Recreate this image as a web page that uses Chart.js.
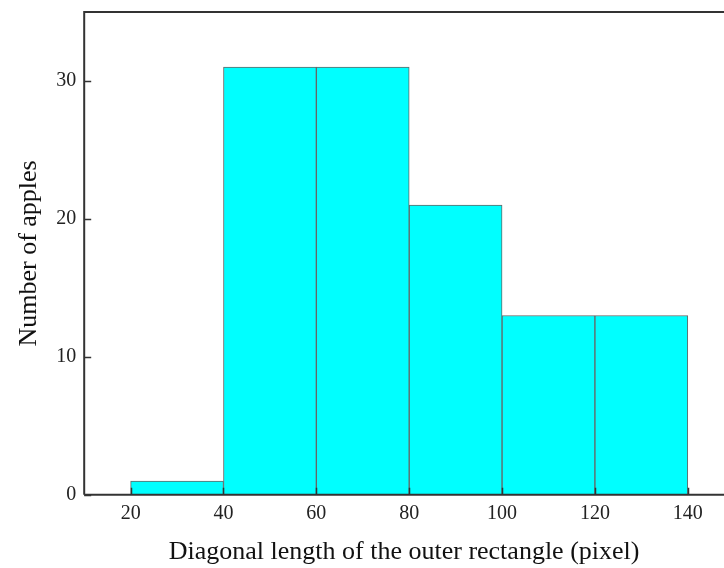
<!DOCTYPE html>
<html><head><meta charset="utf-8">
<script src="https://cdn.jsdelivr.net/npm/chart.js@4/dist/chart.umd.min.js"></script>
<style>html,body{margin:0;padding:0;background:#fff;overflow:hidden}#wrap{width:724px;height:568px}</style>
</head><body><div id="wrap"><canvas id="c" width="724" height="568"></canvas></div>
<script>
const binCenters = [30, 50, 70, 90, 110, 130];
const counts = [1, 31, 31, 21, 13, 13];
const xTicks = [20, 40, 60, 80, 100, 120, 140];
const yTicks = [0, 10, 20, 30];

const frame = {
  id: 'frame',
  afterDraw(chart) {
    const {ctx, chartArea: a, scales: {x, y}} = chart;
    ctx.save();
    ctx.strokeStyle = '#333';
    ctx.lineWidth = 2;
    ctx.beginPath();
    ctx.moveTo(a.left, a.bottom); ctx.lineTo(a.left, a.top); ctx.lineTo(a.right, a.top);
    ctx.moveTo(a.left, a.bottom); ctx.lineTo(a.right, a.bottom);
    ctx.stroke();
    ctx.lineWidth = 1.5;
    ctx.beginPath();
    xTicks.forEach(v => { const p = Math.round(x.getPixelForValue(v)) + 0.5; ctx.moveTo(p, a.bottom); ctx.lineTo(p, a.bottom - 7); });
    yTicks.forEach(v => { const p = Math.round(y.getPixelForValue(v)) + 0.5; ctx.moveTo(a.left, p); ctx.lineTo(a.left + 7, p); });
    ctx.stroke();
    ctx.restore();
  }
};

new Chart(document.getElementById('c'), {
  type: 'bar',
  data: {
    datasets: [{
      data: binCenters.map((c, i) => ({x: c, y: counts[i]})),
      backgroundColor: '#00FFFF',
      borderColor: '#666',
      borderWidth: 1,
      barPercentage: 1,
      categoryPercentage: 1
    }]
  },
  options: {
    responsive: false,
    animation: false,
    layout: {padding: {top: 12, right: 0, left: 14, bottom: 0}},
    plugins: {legend: {display: false}, tooltip: {enabled: false}},
    scales: {
      x: {
        type: 'linear', min: 10, max: 147.8, offset: false,
        afterBuildTicks: s => { s.ticks = xTicks.map(v => ({value: v})); },
        grid: {display: false, drawTicks: false, offset: false},
        border: {display: false},
        ticks: {padding: 7, color: '#222', font: {family: 'Liberation Serif', size: 20}, maxRotation: 0},
        title: {display: true, text: 'Diagonal length of the outer rectangle (pixel)', color: '#111', font: {family: 'Liberation Serif', size: 26}, padding: {top: 4, bottom: 0}}
      },
      y: {
        min: 0, max: 35,
        afterBuildTicks: s => { s.ticks = yTicks.map(v => ({value: v})); },
        afterFit: s => { s.paddingTop = 0; },
        grid: {display: false, drawTicks: false},
        border: {display: false},
        ticks: {padding: 8, color: '#222', font: {family: 'Liberation Serif', size: 20}},
        title: {display: true, text: 'Number of apples', color: '#111', font: {family: 'Liberation Serif', size: 26}, padding: {top: 0, bottom: 3}}
      }
    }
  },
  plugins: [frame]
});
</script></body></html>
